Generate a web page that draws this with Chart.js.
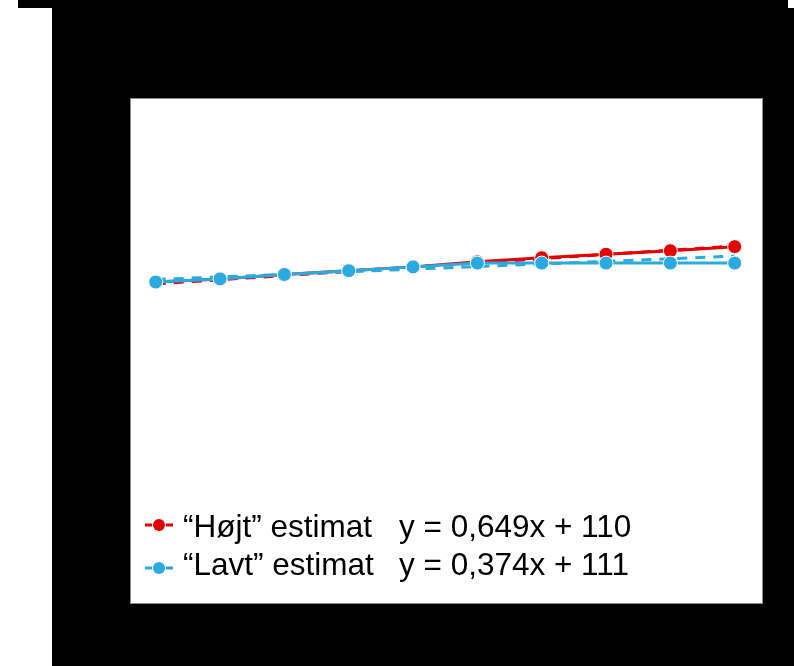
<!DOCTYPE html>
<html>
<head>
<meta charset="utf-8">
<script src="https://cdn.jsdelivr.net/npm/chart.js@4/dist/chart.umd.min.js"></script>
<style>
  html, body { margin: 0; padding: 0; background: #ffffff; }
  canvas { display: block; }
</style>
</head>
<body>
<canvas id="c" width="794" height="666"></canvas>
<script>
// ---- data ----
const xValues = [1, 2, 3, 4, 5, 6, 7, 8, 9, 10];
const hojtValues = [110.9, 111.4, 112.1, 112.7, 113.3, 114.1, 114.75, 115.3, 115.85, 116.5];
const lavtValues = [110.9, 111.4, 112.1, 112.7, 113.3, 113.9, 113.9, 113.9, 113.9, 113.9];
const trendX = [1, 10];
const hojtTrend = [110.6, 116.6];
const lavtTrend = [111.3, 115.0];
const seriesLabels = ['\u201cHøjt\u201d estimat', '\u201cLavt\u201d estimat'];
const equationLabels = ['y = 0,649x + 110', 'y = 0,374x + 111'];

const RED = '#e60000';
const BLUE = '#29abe2';

const toXY = (xs, ys) => xs.map((x, i) => ({ x: x, y: ys[i] }));

const framePlugin = {
  id: 'frame',
  beforeDraw(chart) {
    const ctx = chart.ctx;
    const ca = chart.chartArea;
    ctx.save();
    ctx.fillStyle = '#ffffff';
    ctx.fillRect(0, 0, chart.width, chart.height);
    ctx.fillStyle = '#000000';
    ctx.fillRect(18, 0, 770, 8);
    ctx.fillRect(52, 8, chart.width - 52, chart.height - 8);
    ctx.fillStyle = '#ffffff';
    ctx.fillRect(ca.left, ca.top, ca.right - ca.left, ca.bottom - ca.top);
    ctx.strokeStyle = '#8a8a8a';
    ctx.lineWidth = 1;
    ctx.strokeRect(ca.left + 0.5, ca.top + 0.5, ca.right - ca.left - 1, ca.bottom - ca.top - 1);
    ctx.restore();
  }
};

const legendPlugin = {
  id: 'customLegend',
  afterDraw(chart) {
    const ctx = chart.ctx;
    const colors = [RED, BLUE];
    const rowsY = [525, 568];
    const baselines = [537, 575];
    ctx.save();
    for (let i = 0; i < 2; i++) {
      const y = rowsY[i];
      ctx.strokeStyle = colors[i];
      ctx.lineWidth = 3;
      ctx.beginPath();
      ctx.moveTo(145, y); ctx.lineTo(152, y);
      ctx.moveTo(166, y); ctx.lineTo(173, y);
      ctx.stroke();
      ctx.fillStyle = colors[i];
      ctx.beginPath();
      ctx.arc(159, y, 6, 0, Math.PI * 2);
      ctx.fill();
      ctx.fillStyle = '#000000';
      ctx.font = '31.5px "Liberation Sans", Arial, sans-serif';
      ctx.textBaseline = 'alphabetic';
      ctx.textAlign = 'left';
      ctx.fillText(seriesLabels[i], 183, baselines[i]);
      ctx.fillText(equationLabels[i], 399, baselines[i]);
    }
    ctx.restore();
  }
};

new Chart(document.getElementById('c'), {
  type: 'line',
  data: {
    datasets: [
      {
        label: seriesLabels[1],
        data: toXY(xValues, lavtValues),
        borderColor: BLUE,
        backgroundColor: BLUE,
        borderWidth: 3,
        pointRadius: 7,
        pointBorderColor: '#ffffff',
        pointBorderWidth: 1,
        pointBackgroundColor: BLUE,
        order: 0
      },
      {
        label: 'Lavt trend',
        data: toXY(trendX, lavtTrend),
        borderColor: BLUE,
        borderWidth: 3,
        borderDash: [10, 8],
        pointRadius: 0,
        order: 1
      },
      {
        label: seriesLabels[0],
        data: toXY(xValues, hojtValues),
        borderColor: RED,
        backgroundColor: RED,
        borderWidth: 3,
        pointRadius: 7,
        pointBorderColor: '#ffffff',
        pointBorderWidth: 1,
        pointBackgroundColor: RED,
        order: 2
      },
      {
        label: 'Højt trend',
        data: toXY(trendX, hojtTrend),
        borderColor: RED,
        borderWidth: 3,
        borderDash: [10, 8],
        pointRadius: 0,
        order: 3
      }
    ]
  },
  options: {
    responsive: false,
    animation: false,
    layout: { padding: { left: 130, top: 98, right: 31, bottom: 62 } },
    scales: {
      x: { type: 'linear', min: 0.6, max: 10.44, display: false },
      y: { min: 60, max: 140, display: false }
    },
    plugins: {
      legend: { display: false },
      tooltip: { enabled: false }
    }
  },
  plugins: [framePlugin, legendPlugin]
});
</script>
</body>
</html>
